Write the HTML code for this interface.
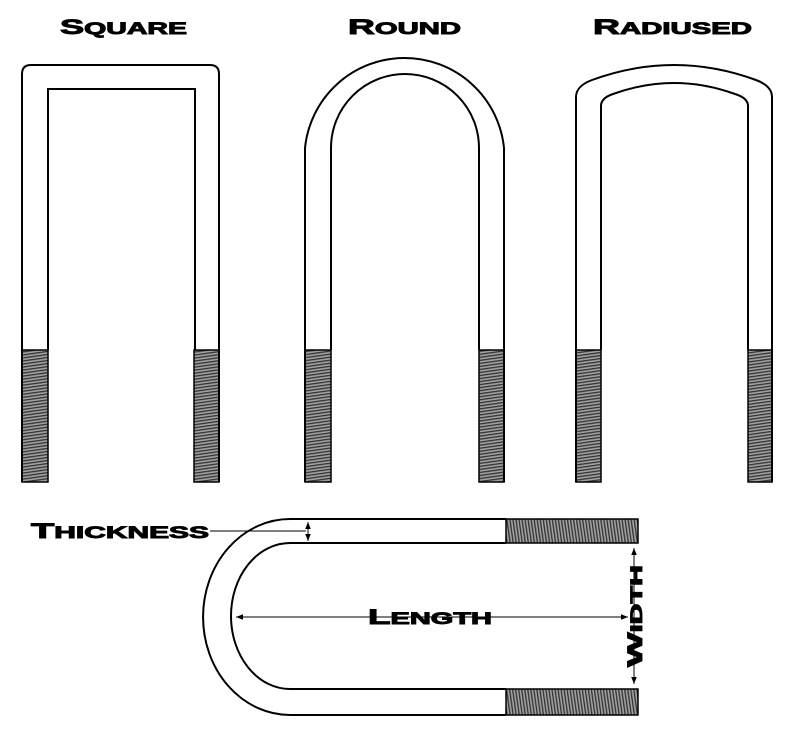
<!DOCTYPE html>
<html><head><meta charset="utf-8"><style>html,body{margin:0;padding:0;background:#fff;width:800px;height:739px;overflow:hidden}</style></head>
<body>
<svg width="800" height="739" viewBox="0 0 800 739" xmlns="http://www.w3.org/2000/svg" font-family="Liberation Sans, sans-serif" font-weight="bold">
<defs>
<pattern id="th" width="4" height="3" patternUnits="userSpaceOnUse" patternTransform="rotate(-8)">
<rect width="4" height="3" fill="#a0a0a0"/>
<rect width="4" height="1.3" fill="#333"/>
</pattern>
<pattern id="tv" width="3" height="4" patternUnits="userSpaceOnUse" patternTransform="rotate(-8)">
<rect width="3" height="4" fill="#a0a0a0"/>
<rect width="1.3" height="4" fill="#333"/>
</pattern>
<marker id="a" viewBox="0 0 10 10" refX="10" refY="5" markerWidth="7" markerHeight="7" orient="auto-start-reverse"><path d="M0,1 L10,5 L0,9 z" fill="#000"/></marker>
</defs>
<g stroke="#000" stroke-width="1" fill="none">
<line x1="210" y1="531" x2="306" y2="531"/>
<line x1="308" y1="522" x2="308" y2="541" marker-start="url(#a)" marker-end="url(#a)"/>
<line x1="236" y1="617" x2="628" y2="617" marker-start="url(#a)" marker-end="url(#a)"/>
<line x1="634" y1="548" x2="634" y2="684" marker-start="url(#a)" marker-end="url(#a)"/>
</g>
<g fill="#000" stroke="#000" stroke-width="0.9">
<text x="60" y="34" textLength="127" lengthAdjust="spacingAndGlyphs"><tspan font-size="21">S</tspan><tspan font-size="16.5">QUARE</tspan></text>
<text x="348" y="34" textLength="113" lengthAdjust="spacingAndGlyphs"><tspan font-size="21">R</tspan><tspan font-size="16.5">OUND</tspan></text>
<text x="593" y="34" textLength="159" lengthAdjust="spacingAndGlyphs"><tspan font-size="21">R</tspan><tspan font-size="16.5">ADIUSED</tspan></text>
<text x="31" y="538" textLength="178" lengthAdjust="spacingAndGlyphs"><tspan font-size="21">T</tspan><tspan font-size="16.5">HICKNESS</tspan></text>
<text x="368" y="624" textLength="124" lengthAdjust="spacingAndGlyphs"><tspan font-size="21">L</tspan><tspan font-size="16.5">ENGTH</tspan></text>
<text transform="translate(642,667) rotate(-90)" textLength="102" lengthAdjust="spacingAndGlyphs"><tspan font-size="21">W</tspan><tspan font-size="16.5">IDTH</tspan></text>
</g>
<g stroke="#000" stroke-width="1.5" fill="url(#th)">
<rect x="22" y="350" width="26" height="132"/><rect x="194" y="350" width="25" height="132"/>
<rect x="305" y="350" width="26" height="132"/><rect x="479" y="350" width="25" height="132"/>
<rect x="576" y="350" width="25" height="132"/><rect x="748" y="350" width="24" height="132"/>
<rect x="506" y="519" width="132" height="24" fill="url(#tv)"/><rect x="506" y="689" width="132" height="26" fill="url(#tv)"/>
</g>
<g stroke="#000" stroke-width="2" fill="none">
<path d="M22,482 V74 Q22,65 31,65 H210 Q219,65 219,74 V482"/>
<path d="M48,350 V89 H195 V350"/>
<path d="M305,482 V148 A100,100 0 0 1 504,148 V482"/>
<path d="M331,350 V148 A74,74 0 0 1 479,148 V350"/>
<path d="M576,482 V97 Q576,86 592,80 Q674,50 756,80 Q772,86 772,97 V482"/>
<path d="M601,350 V106 Q601,98 613,94 Q674,72 735,94 Q748,98 748,106 V350"/>
<path d="M506,519 H290 A87,98 0 0 0 290,715 H506"/>
<path d="M506,543 H290 A59,73 0 0 0 290,689 H506"/>
</g>
</svg>
</body></html>
